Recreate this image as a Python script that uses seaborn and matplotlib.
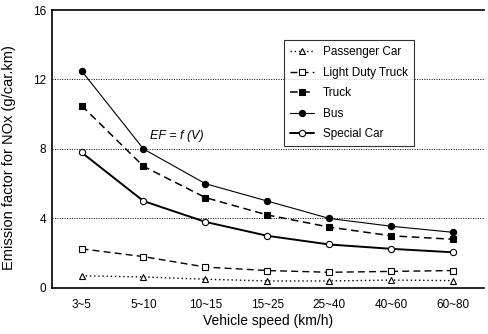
import matplotlib
matplotlib.use("Agg")
import matplotlib.pyplot as plt
import seaborn as sns
import pandas as pd

speeds = ["3~5", "5~10", "10~15", "15~25", "25~40", "40~60", "60~80"]
passenger_car = [0.7, 0.63, 0.5, 0.4, 0.4, 0.45, 0.42]
light_duty_truck = [2.25, 1.8, 1.2, 1.0, 0.9, 0.95, 1.0]
truck = [10.5, 7.0, 5.2, 4.2, 3.5, 3.0, 2.8]
bus = [12.5, 8.0, 6.0, 5.0, 4.0, 3.55, 3.2]
special_car = [7.8, 5.0, 3.8, 3.0, 2.5, 2.25, 2.05]
y_ticks = [0, 4, 8, 12, 16]

sns.set_theme(style="white")
plt.rcParams['font.family'] = ['Liberation Sans', 'DejaVu Sans']
plt.rcParams.update({"text.color": "black", "axes.labelcolor": "black",
                     "xtick.color": "black", "ytick.color": "black"})

fig = plt.figure(figsize=(4.89, 3.34), dpi=100)
ax = fig.add_axes([0.106, 0.138, 0.99 - 0.106, 0.97 - 0.138])

series = [
    ("Passenger Car", passenger_car, dict(linestyle=(0, (1, 2)), marker="^", markerfacecolor="white", lw=1.0, ms=4.5)),
    ("Light Duty Truck", light_duty_truck, dict(linestyle=(0, (5, 3)), marker="s", markerfacecolor="white", lw=1.0, ms=4.5)),
    ("Truck", truck, dict(linestyle=(0, (5, 3)), marker="s", markerfacecolor="black", lw=1.1, ms=4.5)),
    ("Bus", bus, dict(linestyle="-", marker="o", markerfacecolor="black", lw=0.8, ms=4.5)),
    ("Special Car", special_car, dict(linestyle="-", marker="o", markerfacecolor="white", lw=1.4, ms=4.5)),
]

for name, vals, st in series:
    df = pd.DataFrame({"speed": speeds, "ef": vals})
    sns.lineplot(data=df, x="speed", y="ef", ax=ax, color="black", label=name,
                 markeredgecolor="black", markeredgewidth=0.8, sort=False, **st)

ax.set_ylim(0, 16)
ax.set_xlim(-0.48, 6.5)
ax.set_yticks(y_ticks)
ax.set_yticklabels([str(t) for t in y_ticks], fontsize=8.5)
ax.tick_params(axis="x", labelsize=8.5, length=0, pad=8, labelcolor="black")
ax.tick_params(axis="y", length=0, pad=4, labelcolor="black")
for t in [4, 8, 12]:
    ax.axhline(t, color="black", lw=0.7, linestyle=(0, (1, 1.5)), zorder=0)

for s in ["left", "bottom", "top"]:
    ax.spines[s].set_color("black")
    ax.spines[s].set_linewidth(1.2)
ax.spines["right"].set_visible(False)

ax.set_xlabel("Vehicle speed (km/h)", fontsize=10, labelpad=2, color="black")
ax.set_ylabel("Emission factor for NOx (g/car.km)", fontsize=10.5, color="black")
ax.yaxis.set_label_coords(-0.083, 0.47)

ax.text(1.1, 8.6, "EF = f (V)", fontsize=9, style="italic", color="black")

leg = ax.legend(loc="upper left", bbox_to_anchor=(0.524, 0.912), fontsize=8.5,
                frameon=True, fancybox=False, edgecolor="black", handlelength=2.0,
                borderpad=0.5, labelspacing=0.72)
leg.get_frame().set_linewidth(0.8)
for t in leg.get_texts():
    t.set_color("black")

fig.savefig("out.png", dpi=100)
